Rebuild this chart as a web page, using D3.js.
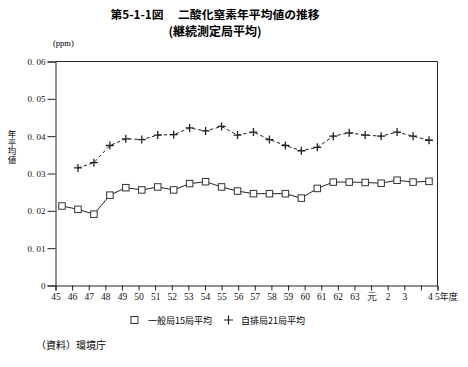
<!DOCTYPE html>
<html><head><meta charset="utf-8">
<script src="https://cdn.jsdelivr.net/npm/d3@7"></script>
<style>
html,body{margin:0;padding:0;background:#fff;}
svg{display:block;}
.vlab{writing-mode:vertical-rl;text-orientation:upright;}
</style></head>
<body>
<svg id="chart" width="468" height="367"></svg>
<script>
const categories = ["45","46","47","48","49","50","51","52","53","54","55","56","57","58","59","60","61","62","63","元","2","3","4","5"];
const generalAvg = [0.0213,0.0204,0.0191,0.0242,0.0262,0.0256,0.0264,0.0256,0.0273,0.0278,0.0264,0.0253,0.0246,0.0246,0.0246,0.0234,0.0260,0.0277,0.0277,0.0276,0.0274,0.0282,0.0277,0.0279];
const roadsideAvg = [null,0.0315,0.0329,0.0375,0.0393,0.0391,0.0403,0.0404,0.0422,0.0414,0.0426,0.0403,0.0411,0.0391,0.0375,0.0361,0.0370,0.0400,0.0409,0.0403,0.0400,0.0411,0.0400,0.0389];
const yTicks = [0,0.01,0.02,0.03,0.04,0.05,0.06];
const seriesNames = ["一般局15局平均","自排局21局平均"];

const svg = d3.select("#chart");
const L = 55.5, R = 437.5, T = 61.5, B = 285.5;
const serif = "Liberation Serif, DejaVu Serif, serif";
const jp = "Noto Sans CJK JP, Noto Sans CJK SC, sans-serif";

const xTick = d3.scalePoint().domain(categories).range([L, R]);
const xPt = d3.scalePoint().domain(categories).range([62, 429]);
const y = d3.scaleLinear().domain([0, 0.06]).range([B, T]);

// Title
svg.append("text").attr("x", 215).attr("y", 18.5).attr("text-anchor","middle")
  .attr("font-family", jp).attr("font-weight","bold").attr("font-size", 11.8)
  .style("white-space","pre").text("第5-1-1図\u3000 二酸化窒素年平均値の推移");
svg.append("text").attr("x", 215).attr("y", 35.5).attr("text-anchor","middle")
  .attr("font-family", jp).attr("font-weight","bold").attr("font-size", 12)
  .text("(継続測定局平均)");

// unit
svg.append("text").attr("x", 53).attr("y", 46).attr("font-family", serif)
  .attr("font-size", 8.5).text("(ppm)");

// frame top/right
svg.append("path").attr("d", `M${L},${T}H${R}V${B}`).attr("fill","none")
  .attr("stroke","#222").attr("stroke-width",1);

// Y axis
const yAxis = d3.axisLeft(y).tickValues(yTicks).tickSize(8).tickPadding(2)
  .tickFormat(d => d === 0 ? "0" : d3.format(".2f")(d).replace(".", ". "));
const gy = svg.append("g").attr("transform", `translate(${L},0)`).call(yAxis);
gy.attr("font-family", serif);
gy.selectAll("text").attr("font-size", 9).attr("fill","#111").style("white-space","pre");
gy.selectAll("line,path").attr("stroke","#222");

// X axis
const xAxis = d3.axisBottom(xTick).tickSize(5).tickPadding(3)
  .tickFormat(d => d === "5" ? "5年度" : d);
const gx = svg.append("g").attr("transform", `translate(0,${B})`).call(xAxis);
gx.attr("font-family", serif);
gx.selectAll("text").attr("font-size", 9.5).attr("fill","#111");
gx.selectAll("line,path").attr("stroke","#222");
gx.selectAll(".tick").filter(d => d === "4").select("text").attr("dx", 9);
gx.selectAll(".tick").filter(d => d === "5").select("text")
  .attr("text-anchor","start").attr("dx", -3)
  .each(function(){
    const t = d3.select(this); t.text(null);
    t.append("tspan").text("5");
    t.append("tspan").attr("font-family", jp).attr("font-size", 9).text("年度");
  });

// Y label: vertical writing
svg.append("text").attr("class","vlab").attr("x", 12).attr("y", 130)
  .attr("font-family", jp).attr("font-size", 8.5)
  .text("年平均値");

// Series
const gData = categories.map((c,i) => ({c, v: generalAvg[i]}));
const rData = categories.map((c,i) => ({c, v: roadsideAvg[i]})).filter(d => d.v != null);
const line = d3.line().x(d => xPt(d.c)).y(d => y(d.v));

svg.append("path").datum(gData).attr("d", line).attr("fill","none")
  .attr("stroke","#222").attr("stroke-width",1);
svg.append("path").datum(rData).attr("d", line).attr("fill","none")
  .attr("stroke","#222").attr("stroke-width",1).attr("stroke-dasharray","3.5,2.5");

const sq = 6.5;
svg.append("g").selectAll("rect").data(gData).join("rect")
  .attr("x", d => xPt(d.c) - sq/2).attr("y", d => y(d.v) - sq/2)
  .attr("width", sq).attr("height", sq).attr("fill","#fff")
  .attr("stroke","#333").attr("stroke-width",1);

const ps = 4;
svg.append("g").selectAll("path").data(rData).join("path")
  .attr("d", d => { const x = xPt(d.c), yy = y(d.v); return `M${x-ps},${yy}H${x+ps}M${x},${yy-ps}V${yy+ps}`; })
  .attr("stroke","#222").attr("stroke-width",1.3);

// Legend
const lg = svg.append("g");
lg.append("rect").attr("x", 131).attr("y", 316.5).attr("width", 7).attr("height", 7)
  .attr("fill","#fff").attr("stroke","#333");
lg.append("text").attr("x", 148).attr("y", 324).attr("font-family", jp).attr("font-size", 9)
  .text(seriesNames[0]);
lg.append("path").attr("d", "M224,320H233M228.5,315.5V324.5").attr("stroke","#222").attr("stroke-width",1.2);
lg.append("text").attr("x", 241).attr("y", 324).attr("font-family", jp).attr("font-size", 9)
  .text(seriesNames[1]);

// Source
svg.append("text").attr("x", 36).attr("y", 349).attr("font-family", jp).attr("font-size", 10)
  .text("（資料）環境庁");
</script>
</body></html>
